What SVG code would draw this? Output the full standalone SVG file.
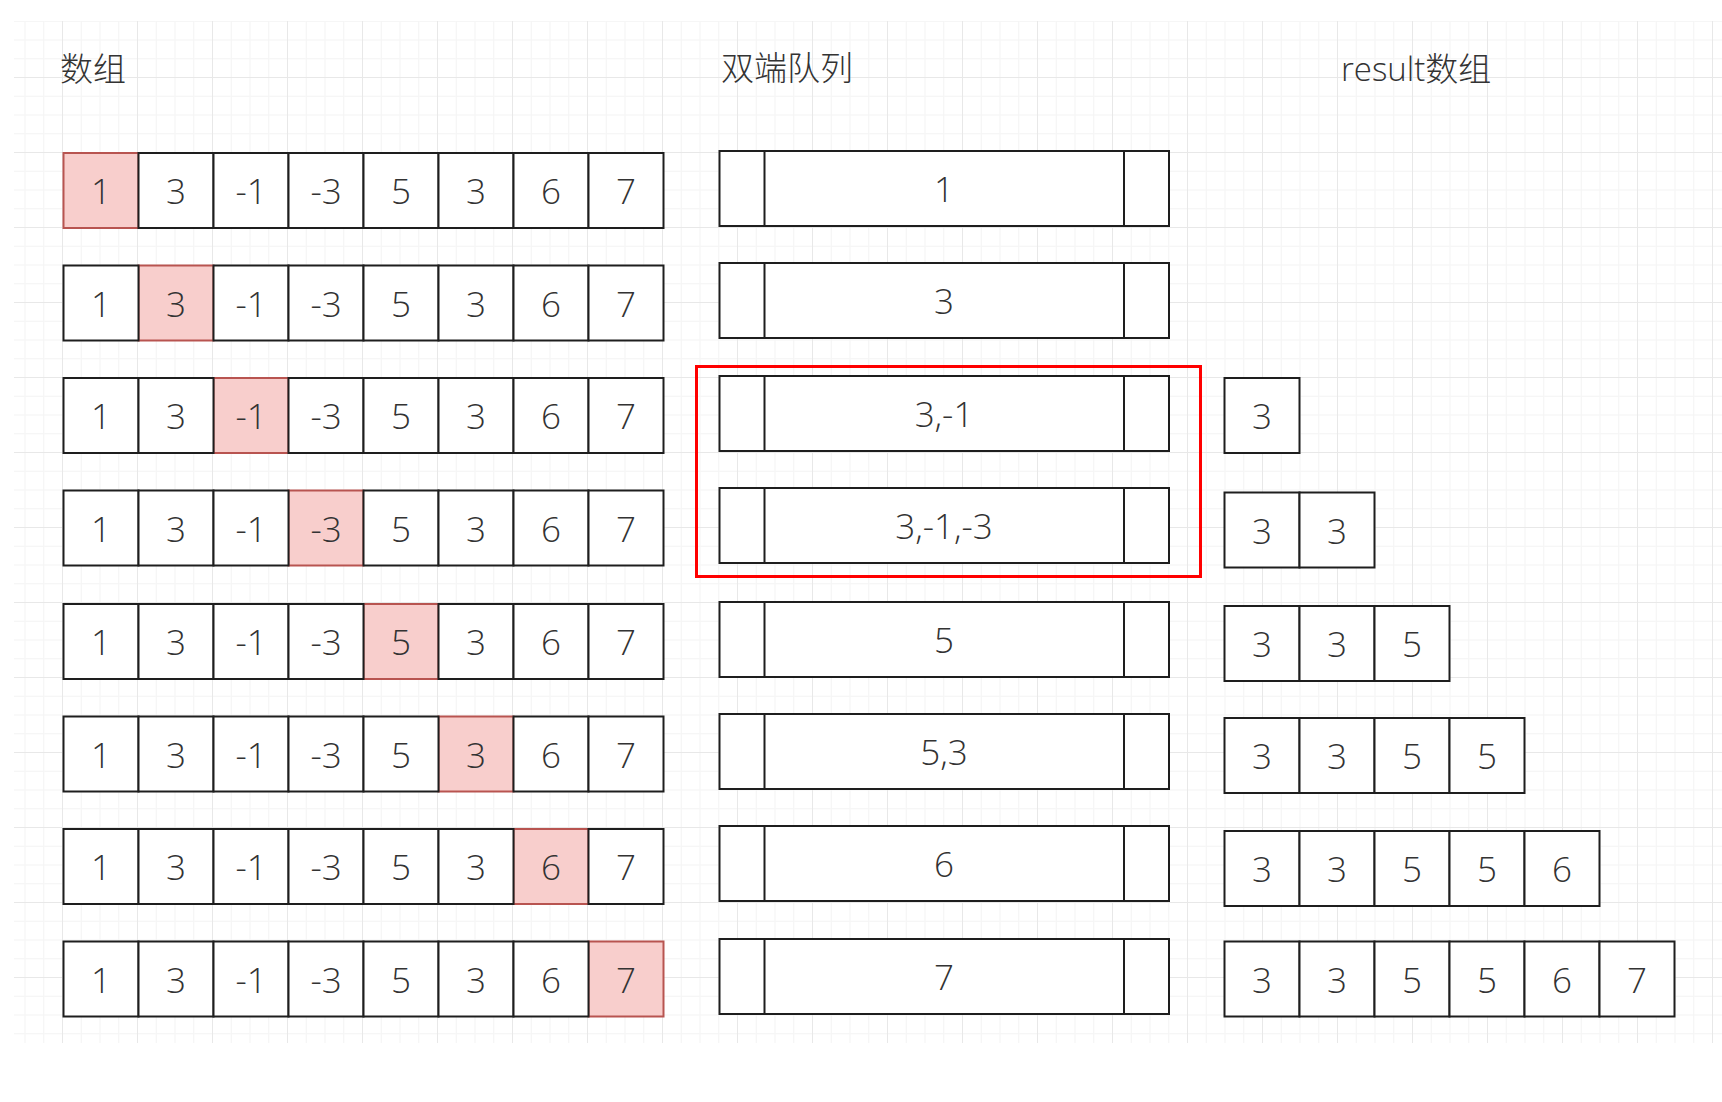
<svg xmlns="http://www.w3.org/2000/svg" width="1722" height="1102" viewBox="0 0 1722 1102">
<defs>
<pattern id="grid" patternUnits="userSpaceOnUse" x="62" y="2" width="75" height="75">
<rect x="18.75" y="0" width="1" height="75" fill="#f4f4f4"/>
<rect x="37.5" y="0" width="1" height="75" fill="#f4f4f4"/>
<rect x="56.25" y="0" width="1" height="75" fill="#f4f4f4"/>
<rect x="0" y="18.75" width="75" height="1" fill="#f4f4f4"/>
<rect x="0" y="37.5" width="75" height="1" fill="#f4f4f4"/>
<rect x="0" y="56.25" width="75" height="1" fill="#f4f4f4"/>
<rect x="0" y="0" width="1" height="75" fill="#e8e8e8"/>
<rect x="0" y="0" width="75" height="1" fill="#e8e8e8"/>
</pattern>
<style>
.c{fill:#ffffff;stroke:#1e1e1e;stroke-width:2}
.h{fill:#f8cecc;stroke:#b85450;stroke-width:2}
.d{fill:none;stroke:#1e1e1e;stroke-width:2}
.t{font-family:"Open Sans","Noto Sans",sans-serif;font-size:35px;font-weight:300;fill:#333333;text-anchor:middle}
.hd{font-family:"Open Sans","Noto Sans CJK SC",sans-serif;font-size:33px;font-weight:300;fill:#333333}
</style>
</defs>
<rect x="0" y="0" width="1722" height="1102" fill="#ffffff"/>
<rect x="14" y="21" width="1708" height="1022" fill="url(#grid)"/>

<g id="headers">
<text class="hd" x="60" y="81">数组</text>
<text class="hd" x="721" y="80">双端队列</text>
<text class="hd" x="1341" y="81">result数组</text>
</g>

<g id="array-row-1">
<rect class="h" x="63.5" y="153" width="75" height="75"/>
<rect class="c" x="138.5" y="153" width="75" height="75"/><rect class="c" x="213.5" y="153" width="75" height="75"/><rect class="c" x="288.5" y="153" width="75" height="75"/><rect class="c" x="363.5" y="153" width="75" height="75"/><rect class="c" x="438.5" y="153" width="75" height="75"/><rect class="c" x="513.5" y="153" width="75" height="75"/><rect class="c" x="588.5" y="153" width="75" height="75"/>
<text class="t" y="204"><tspan x="101">1</tspan><tspan x="176">3</tspan><tspan x="251">-1</tspan><tspan x="326">-3</tspan><tspan x="401">5</tspan><tspan x="476">3</tspan><tspan x="551">6</tspan><tspan x="626">7</tspan></text>
</g>
<g id="array-row-2">
<rect class="h" x="138.5" y="265.5" width="75" height="75"/>
<rect class="c" x="63.5" y="265.5" width="75" height="75"/><rect class="c" x="213.5" y="265.5" width="75" height="75"/><rect class="c" x="288.5" y="265.5" width="75" height="75"/><rect class="c" x="363.5" y="265.5" width="75" height="75"/><rect class="c" x="438.5" y="265.5" width="75" height="75"/><rect class="c" x="513.5" y="265.5" width="75" height="75"/><rect class="c" x="588.5" y="265.5" width="75" height="75"/>
<text class="t" y="316.5"><tspan x="101">1</tspan><tspan x="176">3</tspan><tspan x="251">-1</tspan><tspan x="326">-3</tspan><tspan x="401">5</tspan><tspan x="476">3</tspan><tspan x="551">6</tspan><tspan x="626">7</tspan></text>
</g>
<g id="array-row-3">
<rect class="h" x="213.5" y="378" width="75" height="75"/>
<rect class="c" x="63.5" y="378" width="75" height="75"/><rect class="c" x="138.5" y="378" width="75" height="75"/><rect class="c" x="288.5" y="378" width="75" height="75"/><rect class="c" x="363.5" y="378" width="75" height="75"/><rect class="c" x="438.5" y="378" width="75" height="75"/><rect class="c" x="513.5" y="378" width="75" height="75"/><rect class="c" x="588.5" y="378" width="75" height="75"/>
<text class="t" y="429"><tspan x="101">1</tspan><tspan x="176">3</tspan><tspan x="251">-1</tspan><tspan x="326">-3</tspan><tspan x="401">5</tspan><tspan x="476">3</tspan><tspan x="551">6</tspan><tspan x="626">7</tspan></text>
</g>
<g id="array-row-4">
<rect class="h" x="288.5" y="490.5" width="75" height="75"/>
<rect class="c" x="63.5" y="490.5" width="75" height="75"/><rect class="c" x="138.5" y="490.5" width="75" height="75"/><rect class="c" x="213.5" y="490.5" width="75" height="75"/><rect class="c" x="363.5" y="490.5" width="75" height="75"/><rect class="c" x="438.5" y="490.5" width="75" height="75"/><rect class="c" x="513.5" y="490.5" width="75" height="75"/><rect class="c" x="588.5" y="490.5" width="75" height="75"/>
<text class="t" y="541.5"><tspan x="101">1</tspan><tspan x="176">3</tspan><tspan x="251">-1</tspan><tspan x="326">-3</tspan><tspan x="401">5</tspan><tspan x="476">3</tspan><tspan x="551">6</tspan><tspan x="626">7</tspan></text>
</g>
<g id="array-row-5">
<rect class="h" x="363.5" y="604" width="75" height="75"/>
<rect class="c" x="63.5" y="604" width="75" height="75"/><rect class="c" x="138.5" y="604" width="75" height="75"/><rect class="c" x="213.5" y="604" width="75" height="75"/><rect class="c" x="288.5" y="604" width="75" height="75"/><rect class="c" x="438.5" y="604" width="75" height="75"/><rect class="c" x="513.5" y="604" width="75" height="75"/><rect class="c" x="588.5" y="604" width="75" height="75"/>
<text class="t" y="655"><tspan x="101">1</tspan><tspan x="176">3</tspan><tspan x="251">-1</tspan><tspan x="326">-3</tspan><tspan x="401">5</tspan><tspan x="476">3</tspan><tspan x="551">6</tspan><tspan x="626">7</tspan></text>
</g>
<g id="array-row-6">
<rect class="h" x="438.5" y="716.5" width="75" height="75"/>
<rect class="c" x="63.5" y="716.5" width="75" height="75"/><rect class="c" x="138.5" y="716.5" width="75" height="75"/><rect class="c" x="213.5" y="716.5" width="75" height="75"/><rect class="c" x="288.5" y="716.5" width="75" height="75"/><rect class="c" x="363.5" y="716.5" width="75" height="75"/><rect class="c" x="513.5" y="716.5" width="75" height="75"/><rect class="c" x="588.5" y="716.5" width="75" height="75"/>
<text class="t" y="767.5"><tspan x="101">1</tspan><tspan x="176">3</tspan><tspan x="251">-1</tspan><tspan x="326">-3</tspan><tspan x="401">5</tspan><tspan x="476">3</tspan><tspan x="551">6</tspan><tspan x="626">7</tspan></text>
</g>
<g id="array-row-7">
<rect class="h" x="513.5" y="829" width="75" height="75"/>
<rect class="c" x="63.5" y="829" width="75" height="75"/><rect class="c" x="138.5" y="829" width="75" height="75"/><rect class="c" x="213.5" y="829" width="75" height="75"/><rect class="c" x="288.5" y="829" width="75" height="75"/><rect class="c" x="363.5" y="829" width="75" height="75"/><rect class="c" x="438.5" y="829" width="75" height="75"/><rect class="c" x="588.5" y="829" width="75" height="75"/>
<text class="t" y="880"><tspan x="101">1</tspan><tspan x="176">3</tspan><tspan x="251">-1</tspan><tspan x="326">-3</tspan><tspan x="401">5</tspan><tspan x="476">3</tspan><tspan x="551">6</tspan><tspan x="626">7</tspan></text>
</g>
<g id="array-row-8">
<rect class="h" x="588.5" y="941.5" width="75" height="75"/>
<rect class="c" x="63.5" y="941.5" width="75" height="75"/><rect class="c" x="138.5" y="941.5" width="75" height="75"/><rect class="c" x="213.5" y="941.5" width="75" height="75"/><rect class="c" x="288.5" y="941.5" width="75" height="75"/><rect class="c" x="363.5" y="941.5" width="75" height="75"/><rect class="c" x="438.5" y="941.5" width="75" height="75"/><rect class="c" x="513.5" y="941.5" width="75" height="75"/>
<text class="t" y="992.5"><tspan x="101">1</tspan><tspan x="176">3</tspan><tspan x="251">-1</tspan><tspan x="326">-3</tspan><tspan x="401">5</tspan><tspan x="476">3</tspan><tspan x="551">6</tspan><tspan x="626">7</tspan></text>
</g>

<g id="deque-1"><rect class="c" x="719.5" y="151" width="449.5" height="75"/><path class="d" d="M764.5 151V226M1124 151V226"/><text class="t" x="944" y="202">1</text></g>
<g id="deque-2"><rect class="c" x="719.5" y="263" width="449.5" height="75"/><path class="d" d="M764.5 263V338M1124 263V338"/><text class="t" x="944" y="314">3</text></g>
<g id="deque-3"><rect class="c" x="719.5" y="376" width="449.5" height="75"/><path class="d" d="M764.5 376V451M1124 376V451"/><text class="t" x="944" y="427">3,-1</text></g>
<g id="deque-4"><rect class="c" x="719.5" y="488" width="449.5" height="75"/><path class="d" d="M764.5 488V563M1124 488V563"/><text class="t" x="944" y="539">3,-1,-3</text></g>
<g id="deque-5"><rect class="c" x="719.5" y="602" width="449.5" height="75"/><path class="d" d="M764.5 602V677M1124 602V677"/><text class="t" x="944" y="653">5</text></g>
<g id="deque-6"><rect class="c" x="719.5" y="714" width="449.5" height="75"/><path class="d" d="M764.5 714V789M1124 714V789"/><text class="t" x="944" y="765">5,3</text></g>
<g id="deque-7"><rect class="c" x="719.5" y="826" width="449.5" height="75"/><path class="d" d="M764.5 826V901M1124 826V901"/><text class="t" x="944" y="877">6</text></g>
<g id="deque-8"><rect class="c" x="719.5" y="939" width="449.5" height="75"/><path class="d" d="M764.5 939V1014M1124 939V1014"/><text class="t" x="944" y="990">7</text></g>

<g id="highlight-box"><rect x="696.5" y="366.5" width="504" height="210" fill="none" stroke="#ff0000" stroke-width="3"/></g>

<g id="result-1"><rect class="c" x="1224.5" y="378" width="75" height="75"/><text class="t" y="429"><tspan x="1262">3</tspan></text></g>
<g id="result-2"><rect class="c" x="1224.5" y="492.5" width="75" height="75"/><rect class="c" x="1299.5" y="492.5" width="75" height="75"/><text class="t" y="543.5"><tspan x="1262">3</tspan><tspan x="1337">3</tspan></text></g>
<g id="result-3"><rect class="c" x="1224.5" y="606" width="75" height="75"/><rect class="c" x="1299.5" y="606" width="75" height="75"/><rect class="c" x="1374.5" y="606" width="75" height="75"/><text class="t" y="657"><tspan x="1262">3</tspan><tspan x="1337">3</tspan><tspan x="1412">5</tspan></text></g>
<g id="result-4"><rect class="c" x="1224.5" y="718" width="75" height="75"/><rect class="c" x="1299.5" y="718" width="75" height="75"/><rect class="c" x="1374.5" y="718" width="75" height="75"/><rect class="c" x="1449.5" y="718" width="75" height="75"/><text class="t" y="769"><tspan x="1262">3</tspan><tspan x="1337">3</tspan><tspan x="1412">5</tspan><tspan x="1487">5</tspan></text></g>
<g id="result-5"><rect class="c" x="1224.5" y="831" width="75" height="75"/><rect class="c" x="1299.5" y="831" width="75" height="75"/><rect class="c" x="1374.5" y="831" width="75" height="75"/><rect class="c" x="1449.5" y="831" width="75" height="75"/><rect class="c" x="1524.5" y="831" width="75" height="75"/><text class="t" y="882"><tspan x="1262">3</tspan><tspan x="1337">3</tspan><tspan x="1412">5</tspan><tspan x="1487">5</tspan><tspan x="1562">6</tspan></text></g>
<g id="result-6"><rect class="c" x="1224.5" y="941.5" width="75" height="75"/><rect class="c" x="1299.5" y="941.5" width="75" height="75"/><rect class="c" x="1374.5" y="941.5" width="75" height="75"/><rect class="c" x="1449.5" y="941.5" width="75" height="75"/><rect class="c" x="1524.5" y="941.5" width="75" height="75"/><rect class="c" x="1599.5" y="941.5" width="75" height="75"/><text class="t" y="992.5"><tspan x="1262">3</tspan><tspan x="1337">3</tspan><tspan x="1412">5</tspan><tspan x="1487">5</tspan><tspan x="1562">6</tspan><tspan x="1637">7</tspan></text></g>

<g id="connectors"></g>
</svg>
